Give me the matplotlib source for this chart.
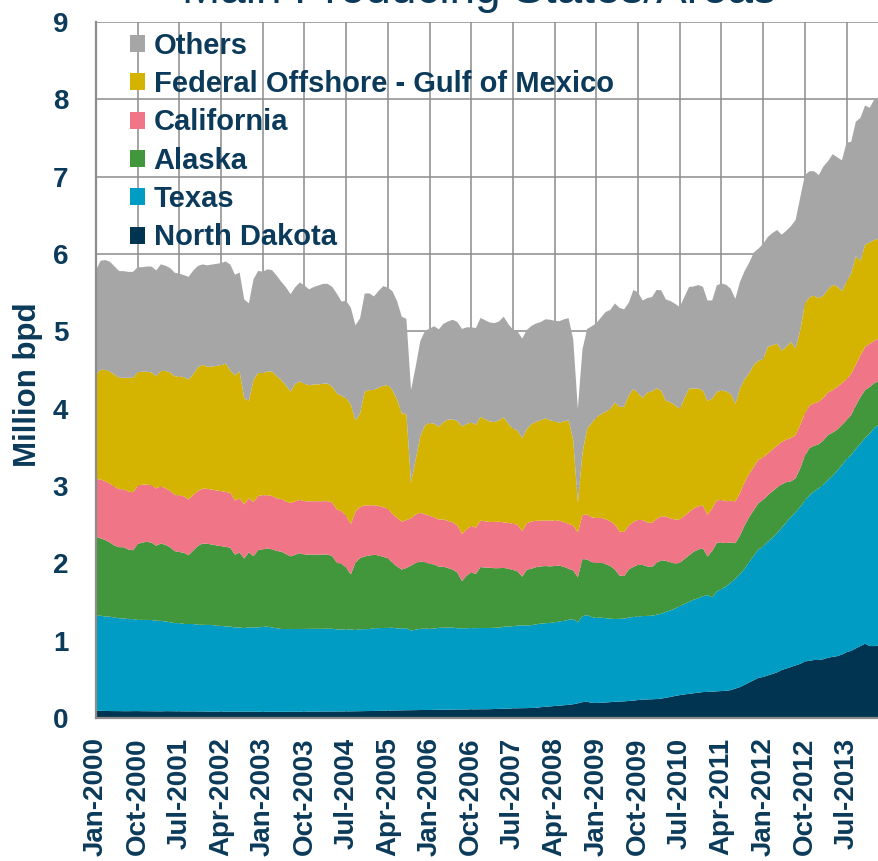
import numpy as np
import pandas as pd
import matplotlib
matplotlib.use("Agg")
import matplotlib.pyplot as plt
from matplotlib.patches import Patch

# monthly crude production, million bpd (Jan-2000 .. Feb-2014)
months = pd.date_range("2000-01-01", periods=170, freq="MS")

north_dakota = [
    0.092, 0.093, 0.091, 0.090, 0.089, 0.089, 0.088, 0.088, 0.089, 0.089, 0.088, 0.088,
    0.087, 0.087, 0.086, 0.088, 0.088, 0.087, 0.086, 0.086, 0.085, 0.086, 0.085, 0.085,
    0.083, 0.083, 0.082, 0.082, 0.083, 0.082, 0.081, 0.081, 0.082, 0.082, 0.082, 0.081,
    0.080, 0.081, 0.081, 0.080, 0.081, 0.080, 0.080, 0.081, 0.081, 0.082, 0.082, 0.083,
    0.083, 0.083, 0.084, 0.084, 0.085, 0.085, 0.085, 0.086, 0.087, 0.088, 0.089, 0.090,
    0.091, 0.092, 0.094, 0.095, 0.097, 0.098, 0.099, 0.100, 0.101, 0.102, 0.103, 0.104,
    0.104, 0.105, 0.106, 0.107, 0.108, 0.109, 0.110, 0.110, 0.111, 0.112, 0.112, 0.113,
    0.113, 0.114, 0.116, 0.118, 0.120, 0.122, 0.124, 0.126, 0.127, 0.128, 0.130, 0.131,
    0.140, 0.145, 0.150, 0.155, 0.160, 0.165, 0.170, 0.178, 0.190, 0.205, 0.210, 0.195,
    0.195, 0.198, 0.200, 0.205, 0.210, 0.212, 0.215, 0.220, 0.225, 0.232, 0.238, 0.240,
    0.242, 0.245, 0.250, 0.262, 0.272, 0.285, 0.295, 0.305, 0.312, 0.320, 0.328, 0.335,
    0.338, 0.340, 0.345, 0.348, 0.352, 0.360, 0.380, 0.400, 0.430, 0.460, 0.490, 0.520,
    0.53, 0.55, 0.57, 0.59, 0.62, 0.64, 0.66, 0.68, 0.70, 0.73, 0.74, 0.75,
    0.75, 0.76, 0.78, 0.79, 0.80, 0.82, 0.85, 0.87, 0.90, 0.93, 0.96, 0.93,
    0.93, 0.94,
]

texas = [
    1.23, 1.23, 1.22, 1.22, 1.21, 1.20, 1.20, 1.19, 1.19, 1.18, 1.18, 1.18,
    1.18, 1.17, 1.17, 1.16, 1.15, 1.14, 1.14, 1.13, 1.13, 1.13, 1.12, 1.12,
    1.12, 1.12, 1.11, 1.11, 1.10, 1.10, 1.09, 1.09, 1.08, 1.09, 1.09, 1.09,
    1.10, 1.10, 1.09, 1.08, 1.07, 1.07, 1.07, 1.07, 1.07, 1.07, 1.07, 1.07,
    1.07, 1.07, 1.07, 1.07, 1.06, 1.06, 1.06, 1.06, 1.05, 1.06, 1.06, 1.06,
    1.07, 1.07, 1.07, 1.07, 1.07, 1.06, 1.06, 1.06, 1.03, 1.04, 1.05, 1.05,
    1.05, 1.05, 1.06, 1.06, 1.06, 1.06, 1.05, 1.05, 1.05, 1.05, 1.05, 1.05,
    1.05, 1.05, 1.05, 1.05, 1.06, 1.06, 1.06, 1.07, 1.07, 1.07, 1.07, 1.08,
    1.08, 1.08, 1.08, 1.08, 1.09, 1.09, 1.10, 1.10, 1.05, 1.11, 1.12, 1.11,
    1.10, 1.10, 1.09, 1.08, 1.07, 1.07, 1.07, 1.08, 1.08, 1.08, 1.08, 1.08,
    1.08, 1.09, 1.10, 1.11, 1.12, 1.13, 1.15, 1.17, 1.19, 1.21, 1.22, 1.24,
    1.25, 1.22, 1.29, 1.32, 1.35, 1.39, 1.42, 1.46, 1.50, 1.56, 1.61, 1.66,
    1.69, 1.73, 1.76, 1.80, 1.84, 1.89, 1.94, 1.98, 2.03, 2.08, 2.14, 2.18,
    2.22, 2.26, 2.30, 2.34, 2.40, 2.45, 2.50, 2.53, 2.58, 2.62, 2.66, 2.75,
    2.82, 2.86,
]

alaska = [
    1.02, 1.00, 0.99, 0.96, 0.93, 0.92, 0.92, 0.90, 0.89, 0.98, 1.00, 1.01,
    1.00, 0.97, 1.00, 0.99, 0.97, 0.93, 0.92, 0.92, 0.89, 0.95, 1.02, 1.05,
    1.05, 1.04, 1.04, 1.03, 1.03, 1.02, 0.94, 0.97, 0.90, 0.97, 0.92, 1.00,
    1.00, 1.01, 1.01, 1.00, 1.00, 0.97, 0.94, 0.96, 0.98, 0.96, 0.96, 0.96,
    0.96, 0.96, 0.96, 0.94, 0.86, 0.85, 0.80, 0.71, 0.87, 0.92, 0.94, 0.95,
    0.95, 0.94, 0.92, 0.90, 0.84, 0.80, 0.76, 0.78, 0.84, 0.86, 0.87, 0.86,
    0.84, 0.83, 0.79, 0.79, 0.77, 0.75, 0.72, 0.61, 0.68, 0.72, 0.70, 0.79,
    0.78, 0.78, 0.77, 0.77, 0.76, 0.75, 0.73, 0.70, 0.63, 0.72, 0.73, 0.74,
    0.74, 0.74, 0.73, 0.73, 0.72, 0.70, 0.66, 0.63, 0.58, 0.74, 0.72, 0.71,
    0.71, 0.71, 0.70, 0.68, 0.64, 0.56, 0.55, 0.62, 0.65, 0.67, 0.66, 0.64,
    0.63, 0.67, 0.69, 0.66, 0.62, 0.58, 0.56, 0.58, 0.60, 0.62, 0.63, 0.62,
    0.50, 0.60, 0.63, 0.60, 0.56, 0.52, 0.46, 0.50, 0.56, 0.58, 0.59, 0.60,
    0.60, 0.60, 0.60, 0.59, 0.56, 0.52, 0.46, 0.44, 0.50, 0.58, 0.61, 0.59,
    0.57, 0.57, 0.58, 0.56, 0.53, 0.52, 0.50, 0.52, 0.56, 0.60, 0.62, 0.60,
    0.58, 0.56,
]

california = [
    0.75, 0.76, 0.76, 0.76, 0.76, 0.75, 0.75, 0.75, 0.75, 0.75, 0.75, 0.74,
    0.74, 0.74, 0.74, 0.73, 0.73, 0.73, 0.73, 0.73, 0.72, 0.72, 0.71, 0.71,
    0.71, 0.71, 0.71, 0.71, 0.71, 0.71, 0.70, 0.70, 0.70, 0.70, 0.70, 0.70,
    0.70, 0.69, 0.69, 0.68, 0.68, 0.68, 0.69, 0.69, 0.69, 0.69, 0.69, 0.69,
    0.69, 0.69, 0.69, 0.69, 0.69, 0.68, 0.67, 0.65, 0.66, 0.66, 0.66, 0.65,
    0.64, 0.64, 0.64, 0.64, 0.63, 0.63, 0.62, 0.62, 0.61, 0.63, 0.63, 0.62,
    0.62, 0.61, 0.61, 0.61, 0.61, 0.61, 0.61, 0.61, 0.60, 0.60, 0.60, 0.60,
    0.60, 0.59, 0.60, 0.60, 0.59, 0.59, 0.60, 0.60, 0.59, 0.60, 0.61, 0.60,
    0.59, 0.59, 0.59, 0.59, 0.58, 0.58, 0.58, 0.58, 0.58, 0.57, 0.58, 0.58,
    0.58, 0.58, 0.58, 0.58, 0.58, 0.57, 0.57, 0.57, 0.58, 0.58, 0.58, 0.57,
    0.57, 0.57, 0.57, 0.57, 0.57, 0.57, 0.56, 0.56, 0.56, 0.56, 0.56, 0.55,
    0.54, 0.55, 0.55, 0.55, 0.54, 0.54, 0.54, 0.55, 0.56, 0.56, 0.56, 0.56,
    0.55, 0.54, 0.54, 0.54, 0.55, 0.55, 0.56, 0.56, 0.56, 0.55, 0.55, 0.55,
    0.55, 0.55, 0.55, 0.55, 0.55, 0.54, 0.53, 0.53, 0.53, 0.54, 0.56, 0.56,
    0.55, 0.55,
]

gulf_of_mexico = [
    1.35, 1.42, 1.44, 1.45, 1.45, 1.44, 1.44, 1.47, 1.48, 1.47, 1.46, 1.46,
    1.46, 1.45, 1.49, 1.52, 1.53, 1.53, 1.54, 1.54, 1.55, 1.56, 1.60, 1.60,
    1.58, 1.59, 1.61, 1.63, 1.66, 1.58, 1.62, 1.64, 1.37, 1.26, 1.58, 1.59,
    1.58, 1.60, 1.61, 1.58, 1.54, 1.50, 1.44, 1.52, 1.53, 1.52, 1.50, 1.51,
    1.51, 1.52, 1.52, 1.50, 1.50, 1.49, 1.52, 1.55, 1.18, 1.21, 1.47, 1.49,
    1.49, 1.53, 1.57, 1.60, 1.60, 1.53, 1.40, 1.37, 0.46, 0.71, 0.99, 1.15,
    1.20, 1.21, 1.20, 1.26, 1.31, 1.33, 1.35, 1.39, 1.36, 1.34, 1.33, 1.34,
    1.32, 1.30, 1.29, 1.31, 1.36, 1.28, 1.23, 1.22, 1.20, 1.22, 1.26, 1.28,
    1.30, 1.32, 1.30, 1.28, 1.27, 1.30, 1.34, 1.11, 0.38, 0.80, 1.11, 1.22,
    1.30, 1.34, 1.39, 1.45, 1.58, 1.61, 1.62, 1.68, 1.72, 1.64, 1.58, 1.68,
    1.70, 1.69, 1.62, 1.50, 1.50, 1.48, 1.43, 1.52, 1.60, 1.55, 1.52, 1.49,
    1.47, 1.42, 1.40, 1.42, 1.42, 1.38, 1.26, 1.35, 1.33, 1.30, 1.32, 1.28,
    1.27, 1.38, 1.35, 1.32, 1.18, 1.20, 1.24, 1.12, 1.22, 1.42, 1.40, 1.39,
    1.34, 1.32, 1.33, 1.36, 1.30, 1.19, 1.26, 1.30, 1.40, 1.22, 1.32, 1.31,
    1.30, 1.29,
]

others = [
    1.35, 1.41, 1.42, 1.42, 1.40, 1.38, 1.38, 1.37, 1.37, 1.36, 1.35, 1.36,
    1.37, 1.37, 1.38, 1.36, 1.35, 1.34, 1.33, 1.32, 1.33, 1.34, 1.31, 1.30,
    1.31, 1.32, 1.32, 1.32, 1.32, 1.37, 1.30, 1.28, 1.28, 1.26, 1.30, 1.32,
    1.31, 1.32, 1.31, 1.30, 1.27, 1.27, 1.26, 1.25, 1.28, 1.27, 1.24, 1.26,
    1.28, 1.29, 1.29, 1.29, 1.29, 1.22, 1.26, 1.25, 1.23, 1.23, 1.27, 1.25,
    1.21, 1.25, 1.29, 1.26, 1.28, 1.27, 1.25, 1.23, 1.20, 1.20, 1.23, 1.22,
    1.22, 1.26, 1.26, 1.27, 1.27, 1.29, 1.28, 1.26, 1.25, 1.23, 1.25, 1.28,
    1.28, 1.28, 1.28, 1.28, 1.30, 1.29, 1.28, 1.28, 1.29, 1.28, 1.27, 1.27,
    1.27, 1.28, 1.30, 1.30, 1.31, 1.32, 1.32, 1.30, 1.22, 1.34, 1.29, 1.25,
    1.22, 1.25, 1.29, 1.28, 1.28, 1.28, 1.26, 1.20, 1.28, 1.30, 1.26, 1.22,
    1.22, 1.27, 1.30, 1.31, 1.31, 1.31, 1.32, 1.31, 1.31, 1.32, 1.34, 1.34,
    1.30, 1.27, 1.38, 1.38, 1.38, 1.36, 1.36, 1.38, 1.40, 1.43, 1.45, 1.45,
    1.49, 1.42, 1.45, 1.47, 1.50, 1.50, 1.50, 1.66, 1.72, 1.66, 1.63, 1.61,
    1.59, 1.67, 1.66, 1.69, 1.67, 1.69, 1.80, 1.70, 1.74, 1.85, 1.80, 1.74,
    1.82, 1.83,
]

names = ["North Dakota", "Texas", "Alaska", "California",
         "Federal Offshore - Gulf of Mexico", "Others"]
colors = ["#003450", "#009CC4", "#42963B", "#EF7587", "#D4B400", "#A6A6A6"]

tick_labels = ["Jan-2000", "Oct-2000", "Jul-2001", "Apr-2002", "Jan-2003",
               "Oct-2003", "Jul-2004", "Apr-2005", "Jan-2006", "Oct-2006",
               "Jul-2007", "Apr-2008", "Jan-2009", "Oct-2009", "Jul-2010",
               "Apr-2011", "Jan-2012", "Oct-2012", "Jul-2013"]

navy = "#0B3A5A"
grid_col = "#8C8C8C"

plt.rcParams["font.family"] = ["Liberation Sans", "DejaVu Sans"]

fig = plt.figure(figsize=(8.79, 8.61), dpi=100)
ax = fig.add_axes([0.1092, 0.1661, 0.8908, 0.8084])

x = np.arange(len(months))
ax.stackplot(x, north_dakota, texas, alaska, california, gulf_of_mexico, others,
             colors=colors, linewidth=0, zorder=2)

ax.set_xlim(0, 169)
ax.set_ylim(0, 9)

ax.set_xticks(np.arange(len(tick_labels)) * 9)
ax.set_xticklabels(tick_labels, rotation=90, fontsize=20, fontweight="bold",
                   color=navy, va="top", ha="center")
ax.set_yticks(range(10))
ax.set_yticklabels([str(v) for v in range(10)], fontsize=20,
                   fontweight="bold", color=navy)
ax.tick_params(axis="both", length=0)
ax.tick_params(axis="x", pad=14)
ax.tick_params(axis="y", pad=20)

ax.grid(True, color=grid_col, linewidth=1.1)
ax.set_axisbelow(True)
for side in ["top", "right"]:
    ax.spines[side].set_visible(False)
for side in ["left", "bottom"]:
    ax.spines[side].set_color(grid_col)
    ax.spines[side].set_linewidth(1.6)
    ax.spines[side].set_zorder(3)

fig.text(0.032, 0.553, "Million bpd", rotation=90, ha="center", va="center",
         fontsize=22.5, fontweight="bold", color=navy)
fig.text(0.545, 0.9965, "Main Producing States/Areas", ha="center",
         va="baseline", fontsize=33, color=navy)

handles = [Patch(facecolor=c, edgecolor="none") for c in colors[::-1]]
leg = ax.legend(handles, names[::-1], loc="upper left",
                bbox_to_anchor=(0.043, 0.986), frameon=False,
                borderpad=0, borderaxespad=0,
                handlelength=0.52, handleheight=0.52, handletextpad=0.3,
                labelspacing=0.355,
                prop={"size": 21, "weight": "bold"})
for t in leg.get_texts():
    t.set_color(navy)

fig.savefig("out.png", dpi=100)
